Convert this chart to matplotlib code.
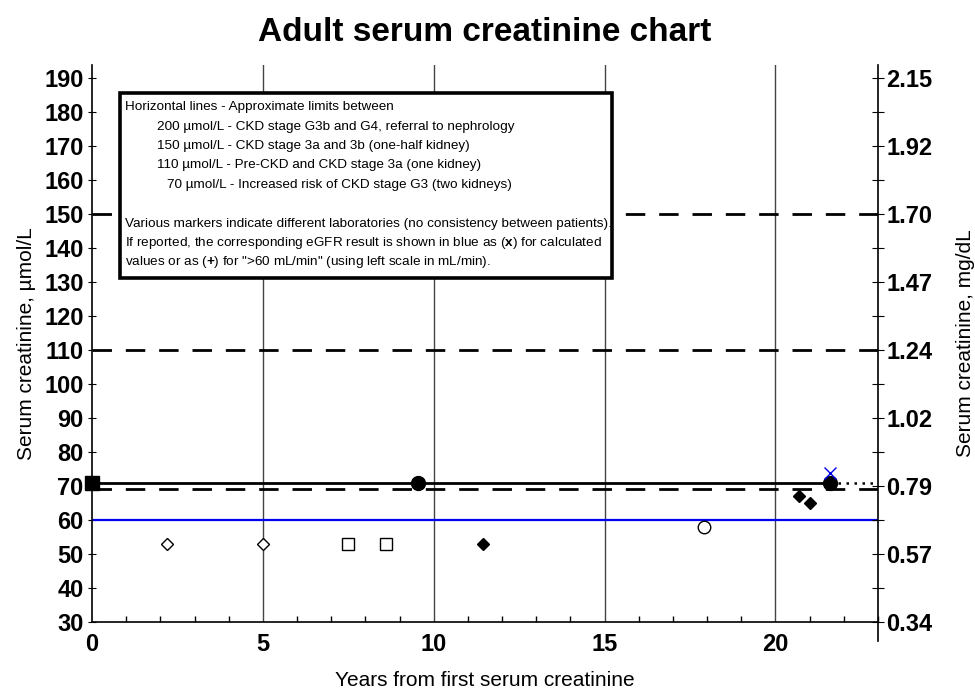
import numpy as np
import matplotlib.pyplot as plt
from matplotlib.ticker import MultipleLocator, FixedLocator
from matplotlib.patches import Rectangle

plt.rcParams['font.family'] = ['Liberation Sans', 'DejaVu Sans']
plt.rcParams['mathtext.fontset'] = 'custom'
plt.rcParams['mathtext.bf'] = 'Liberation Sans:bold'
plt.rcParams['mathtext.rm'] = 'Liberation Sans'

# measurements (years, umol/L) grouped by marker / laboratory
sq_fill_x = [0.0]
sq_fill_y = [71]
dia_open_x = [2.2, 5.0]
dia_open_y = [53, 53]
sq_open_x = [7.5, 8.6]
sq_open_y = [53, 53]
circ_fill_x = [9.55, 21.6]
circ_fill_y = [71, 71]
dia_fill_x = [11.45, 20.7, 21.0]
dia_fill_y = [53, 67, 65]
circ_open_x = [17.9]
circ_open_y = [58]
egfr_x = [21.6]
egfr_y = [74]

limit_lines = [150, 110, 69]
egfr_line = 60
trend_level = 71
trend_end = 21.6
right_ticks = [30, 50, 70, 90, 110, 130, 150, 170, 190]

note_lines = [
    'Horizontal lines - Approximate limits between',
    '200 \u00b5mol/L - CKD stage G3b and G4, referral to nephrology',
    '150 \u00b5mol/L - CKD stage 3a and 3b (one-half kidney)',
    '110 \u00b5mol/L - Pre-CKD and CKD stage 3a (one kidney)',
    '70 \u00b5mol/L - Increased risk of CKD stage G3 (two kidneys)',
    '',
    'Various markers indicate different laboratories (no consistency between patients).',
    'If reported, the corresponding eGFR result is shown in blue as ($\\mathbf{x}$) for calculated',
    'values or as ($\\mathbf{+}$) for ">60 mL/min" (using left scale in mL/min).',
]
note_indent = [0, 1, 1, 1, 2, 0, 0, 0, 0]

xmax = 23
ymin, ymax = 30, 194

fig = plt.figure(figsize=(9.75, 6.92), dpi=100)
ax = fig.add_axes([0.0944, 0.1012, 0.806, 0.805])

for xv in [5, 10, 15, 20]:
    ax.axvline(xv, color='#444444', lw=1, zorder=1)

for yv in limit_lines:
    ax.axhline(yv, color='black', lw=2, ls=(0, (7, 5)), zorder=2)
ax.axhline(egfr_line, color='#0000ee', lw=1.6, zorder=2)
ax.plot([0, trend_end], [trend_level, trend_level], color='black', lw=2, zorder=3)
ax.plot([trend_end, xmax], [trend_level, trend_level], color='black', lw=1.8, ls=(0, (1, 2.2)), zorder=3)

ax.plot(sq_fill_x, sq_fill_y, 's', ms=10, color='black', zorder=5, clip_on=False)
ax.plot(dia_open_x, dia_open_y, 'D', ms=6.5, mfc='white', mec='black', mew=1, zorder=5)
ax.plot(sq_open_x, sq_open_y, 's', ms=8.5, mfc='white', mec='black', mew=1, zorder=5)
ax.plot(circ_fill_x, circ_fill_y, 'o', ms=10, color='black', zorder=5)
ax.plot(dia_fill_x, dia_fill_y, 'D', ms=6.5, color='black', zorder=5)
ax.plot(circ_open_x, circ_open_y, 'o', ms=9, mfc='white', mec='black', mew=1, zorder=5)
ax.plot(egfr_x, egfr_y, 'x', ms=9, color='#0000ee', mew=1, zorder=5)

ax.set_xlim(0, xmax)
ax.set_ylim(ymin, ymax)
ax.xaxis.set_major_locator(FixedLocator([0, 5, 10, 15, 20]))
ax.xaxis.set_minor_locator(MultipleLocator(1))
ax.yaxis.set_major_locator(MultipleLocator(10))
ax.tick_params(axis='x', which='major', length=0, pad=8, labelsize=17)
ax.tick_params(axis='x', which='minor', direction='in', length=4, width=1)
ax.tick_params(axis='y', which='major', direction='inout', length=6, width=0.8, labelsize=17, pad=3)
for lbl in ax.get_xticklabels() + ax.get_yticklabels():
    lbl.set_fontweight('bold')
ax.spines['top'].set_visible(False)
ax.spines['right'].set_visible(False)
ax.spines['left'].set_linewidth(1.2)
ax.spines['bottom'].set_linewidth(1.2)

ax2 = ax.twinx()
ax2.set_ylim(ymin, ymax)
ax2.yaxis.set_major_locator(FixedLocator(right_ticks))
ax2.yaxis.set_minor_locator(MultipleLocator(10))
ax2.set_yticklabels(['%.2f' % (v / 88.4) for v in right_ticks])
ax2.tick_params(axis='y', which='both', direction='inout', length=8, width=0.8, labelsize=17, pad=2)
for lbl in ax2.get_yticklabels():
    lbl.set_fontweight('bold')
for s in ['top', 'left', 'bottom', 'right']:
    ax2.spines[s].set_visible(False)
ax.plot([xmax, xmax], [ymin - 5.5, ymax], color='black', lw=1.2, clip_on=False, zorder=6)

ax.set_title('Adult serum creatinine chart', fontsize=24, fontweight='bold', pad=17)
ax.set_xlabel('Years from first serum creatinine', fontsize=15, labelpad=11)
ax.set_ylabel('Serum creatinine, \u00b5mol/L', fontsize=15, labelpad=6)
ax2.set_ylabel('Serum creatinine, mg/dL', fontsize=15, labelpad=17)

# note box, placed in axes-fraction coordinates
ax.add_patch(Rectangle((0.0356, 0.617), 0.626, 0.332, transform=ax.transAxes,
                       fc='white', ec='black', lw=2.6, zorder=7))
indent_x = [0.042, 0.083, 0.096]
for i, line in enumerate(note_lines):
    if not line:
        continue
    ax.text(indent_x[note_indent[i]], 0.924 - i * 0.0348, line, transform=ax.transAxes,
            fontsize=9.7, va='center', ha='left', zorder=8)

fig.savefig('out.png', dpi=100)
